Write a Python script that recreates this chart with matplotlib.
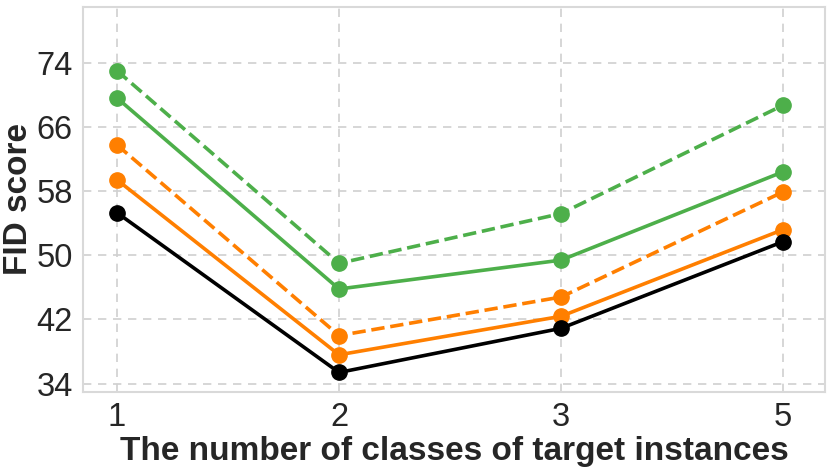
import matplotlib
matplotlib.use("Agg")
import matplotlib.pyplot as plt
import seaborn as sns

sns.set_style("whitegrid")
plt.rcParams['font.family'] = ['Arial', 'Liberation Sans', 'DejaVu Sans']

categories = ["1", "2", "3", "5"]
green_dashed = [73.0, 49.0, 55.2, 68.7]
green_solid = [69.6, 45.8, 49.4, 60.4]
orange_dashed = [63.75, 40.0, 44.8, 57.9]
orange_solid = [59.4, 37.6, 42.4, 53.2]
black_solid = [55.3, 35.4, 40.9, 51.7]
yticks = [34, 42, 50, 58, 66, 74]

fig = plt.figure(figsize=(8.31, 4.68), dpi=100)
ax = fig.add_axes([0.100, 0.163, 0.893, 0.823])
x = list(range(len(categories)))

series = [
    (green_dashed, "#4daf4a", "--"),
    (green_solid, "#4daf4a", "-"),
    (orange_dashed, "#ff7f00", "--"),
    (orange_solid, "#ff7f00", "-"),
    (black_solid, "black", "-"),
]
for vals, c, ls in series:
    ax.plot(x, vals, color=c, linestyle=ls, linewidth=2.6, marker="o", markersize=11)

ax.set_xticks(x)
ax.set_xticklabels(categories)
ax.set_yticks(yticks)
ax.set_ylim(33, 81)
ax.set_xlim(-0.153, 3.19)
ax.tick_params(axis='both', labelsize=23.5, colors="#262626", pad=4)
ax.grid(True, linestyle=(0, (5, 4)), color="#d0d0d0", linewidth=1.2)
for s in ax.spines.values():
    s.set_color("#d9d9d9")
    s.set_linewidth(1.5)
ax.set_xlabel("The number of classes of target instances", fontsize=24, fontweight="bold", color="#262626", labelpad=2)
ax.set_ylabel("FID score", fontsize=24, fontweight="bold", color="#262626", labelpad=2)

fig.savefig("out.png", dpi=100)
